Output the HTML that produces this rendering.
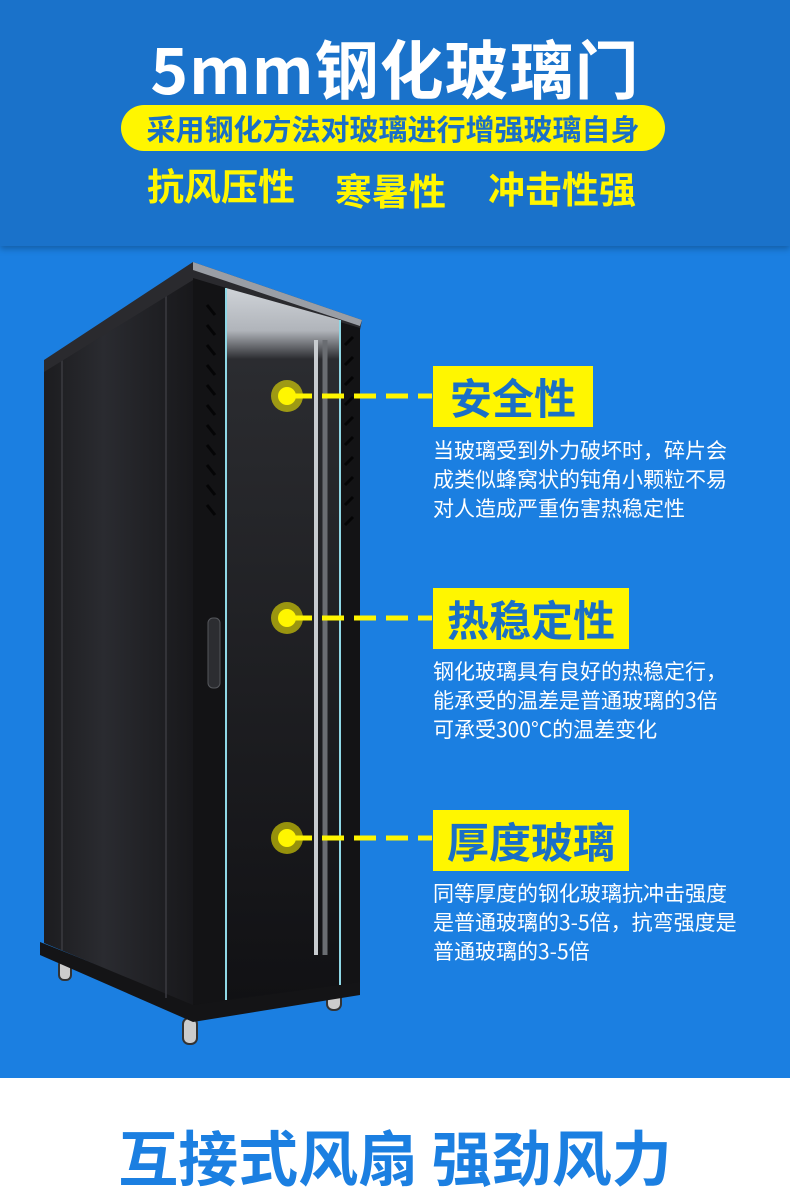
<!DOCTYPE html>
<html><head><meta charset="utf-8">
<style>
html,body{margin:0;padding:0}
body{width:790px;height:1176px;position:relative;overflow:hidden;background:#fff;font-family:"Liberation Sans","Noto Sans CJK SC",sans-serif}
.hdr{position:absolute;left:0;top:0;width:790px;height:246px;background:#1a72ca;box-shadow:0 3px 6px rgba(0,0,0,.25);z-index:2}
.main{position:absolute;left:0;top:246px;width:790px;height:832px;background:#1b7fe1}
.t1{position:absolute;top:24px;left:0;width:790px;text-align:center;color:#fff;font-weight:bold;font-size:64px;line-height:86px;font-family:"Noto Sans CJK SC",sans-serif;letter-spacing:1px}
.pill{position:absolute;left:121px;top:105px;width:544px;height:46px;background:#fff600;border-radius:23px;text-align:center;color:#1a6fc6;font-weight:bold;font-size:29px;line-height:46px;font-family:"Noto Sans CJK SC",sans-serif;white-space:nowrap}
.t3{position:absolute;top:158px;color:#fff600;font-weight:bold;font-size:37px;line-height:52px;font-family:"Noto Sans CJK SC",sans-serif}
.box{position:absolute;left:433px;height:61px;background:#fff600;color:#1a6fc6;font-weight:bold;font-size:42px;line-height:61px;font-family:"Noto Sans CJK SC",sans-serif;text-align:center}
.desc{position:absolute;left:433px;color:#fff;font-size:21px;line-height:29px;font-family:"Noto Sans CJK SC",sans-serif;white-space:nowrap}
.bot{position:absolute;left:0;top:1116px;width:790px;text-align:center;color:#1b7fe1;font-weight:bold;font-size:60px;line-height:80px;font-family:"Noto Sans CJK SC",sans-serif}
</style></head><body>
<div class="hdr">
<div class="t1">5mm钢化玻璃门</div>
<div class="pill">采用钢化方法对玻璃进行增强玻璃自身</div>
<div class="t3" style="left:147px">抗风压性</div>
<div class="t3" style="left:335px;top:163px">寒暑性</div>
<div class="t3" style="left:488px;top:161px">冲击性强</div>
</div>
<div class="main"></div>
<svg style="position:absolute;left:0;top:0" width="790" height="1176">
<defs>
<linearGradient id="side" x1="0" x2="1"><stop offset="0" stop-color="#1c1c1f"/><stop offset=".4" stop-color="#2a2b30"/><stop offset="1" stop-color="#18181b"/></linearGradient>
<linearGradient id="glass" x1="0" y1="0" x2="0" y2="1"><stop offset="0" stop-color="#cfd3d8"/><stop offset=".06" stop-color="#b0b4ba"/><stop offset=".1" stop-color="#2b2c30"/><stop offset="1" stop-color="#111114"/></linearGradient>
</defs>
<g fill="#ccc" stroke="#333" stroke-width="2">
<rect x="59" y="960" width="12" height="20" rx="5"/>
<rect x="183" y="1018" width="14" height="26" rx="6"/>
<rect x="327" y="990" width="14" height="20" rx="6"/>
</g>
<polygon points="40,942 193,1003 360,980 360,995 193,1022 40,955" fill="#141416"/>
<polygon points="44,368 193,278 193,1005 44,943" fill="url(#side)"/>
<line x1="62" y1="360" x2="62" y2="950" stroke="#3a3a40" stroke-width="1.5"/>
<line x1="166" y1="296" x2="166" y2="998" stroke="#3a3a40" stroke-width="1.5"/>
<polygon points="44,360 193,262 362,320 360,330 193,280 44,372" fill="#2a2a2e"/>
<polygon points="193,262 362,320 360,326 193,270" fill="#9a9ea5"/>
<polygon points="193,278 360,328 360,982 193,1005" fill="#131315"/>
<polygon points="226,288 340,320 340,985 226,1000" fill="url(#glass)"/>
<line x1="226" y1="288" x2="226" y2="1000" stroke="#8fd8e6" stroke-width="2"/>
<line x1="340" y1="320" x2="340" y2="985" stroke="#8fd8e6" stroke-width="2"/>
<line x1="316" y1="340" x2="316" y2="955" stroke="#c8ccd0" stroke-width="4"/>
<line x1="325" y1="340" x2="325" y2="955" stroke="#6a6d72" stroke-width="5"/>
<rect x="208" y="618" width="12" height="70" rx="5" fill="#2c2d31" stroke="#55575c"/>
<g stroke="#050506" stroke-width="3">
<path d="M207,305l8,10M207,325l8,10M207,345l8,10M207,365l8,10M207,385l8,10M207,405l8,10M207,425l8,10M207,445l8,10M207,465l8,10M207,485l8,10M207,505l8,10"/>
<path d="M345,345l8,-8M345,365l8,-8M345,385l8,-8M345,405l8,-8M345,425l8,-8M345,445l8,-8M345,465l8,-8M345,485l8,-8M345,505l8,-8M345,525l8,-8"/>
</g>
<g fill="#fff600">
<circle cx="287" cy="396" r="16" opacity=".55"/><circle cx="287" cy="396" r="9"/>
<circle cx="287" cy="618" r="16" opacity=".55"/><circle cx="287" cy="618" r="9"/>
<circle cx="287" cy="838" r="16" opacity=".55"/><circle cx="287" cy="838" r="9"/>
</g>
<g stroke="#fff600" stroke-width="5" stroke-dasharray="22,10">
<line x1="290" y1="396" x2="432" y2="396"/>
<line x1="290" y1="618" x2="432" y2="618"/>
<line x1="290" y1="838" x2="432" y2="838"/>
</g>
<rect x="0" y="1078" width="790" height="98" fill="#fff"/>
</svg>
<div class="box" style="top:366px;width:160px">安全性</div>
<div class="desc" style="top:436px">当玻璃受到外力破坏时，碎片会<br>成类似蜂窝状的钝角小颗粒不易<br>对人造成严重伤害热稳定性</div>
<div class="box" style="top:588px;width:196px">热稳定性</div>
<div class="desc" style="top:657px">钢化玻璃具有良好的热稳定行，<br>能承受的温差是普通玻璃的3倍<br>可承受300°C的温差变化</div>
<div class="box" style="top:810px;width:196px">厚度玻璃</div>
<div class="desc" style="top:879px">同等厚度的钢化玻璃抗冲击强度<br>是普通玻璃的3-5倍，抗弯强度是<br>普通玻璃的3-5倍</div>
<div class="bot">互接式风扇&nbsp;强劲风力</div>
</body></html>
